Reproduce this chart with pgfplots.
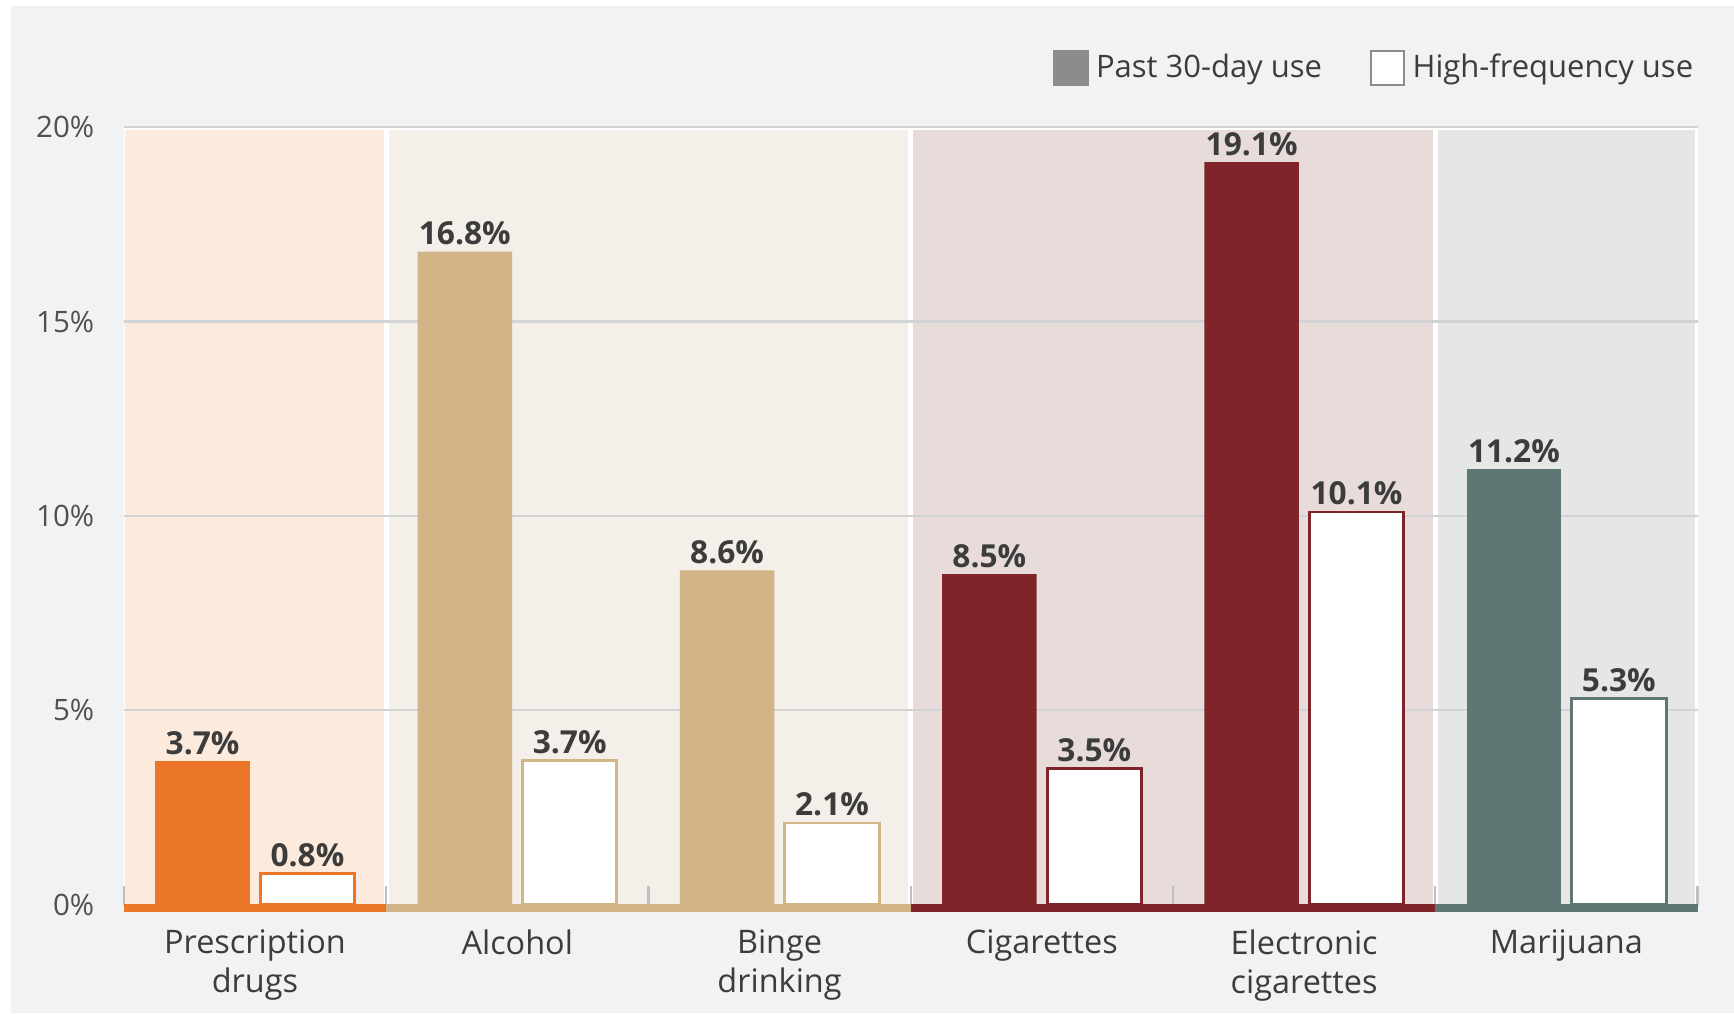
\documentclass[border=0pt]{standalone}
\usepackage{pgfplots}
\pgfplotsset{compat=1.18}
\usepackage{fontspec}
\setmainfont{Open Sans}
\definecolor{bg}{HTML}{F1F2F4}
\definecolor{cOr}{HTML}{EC7627}
\definecolor{cTan}{HTML}{D1B586}
\definecolor{cRed}{HTML}{7F2428}
\definecolor{cGrn}{HTML}{5E7774}
\definecolor{bOr}{HTML}{FCEBDD}
\definecolor{bTan}{HTML}{F4EFE9}
\definecolor{bRed}{HTML}{E7DCD9}
\definecolor{bGrn}{HTML}{E5E7E6}
\definecolor{txt}{HTML}{3C3C3C}
\definecolor{grd}{HTML}{D2D3D5}
\definecolor{lgray}{HTML}{8C8C8C}
\pgfplotsset{sqleg/.style={legend image code/.code={\draw[##1, line width=0.6pt] (0pt,-4.6pt) rectangle (9pt,4.6pt);}}}
\begin{document}
\begin{tikzpicture}
\begin{axis}[
 set layers,
 scale only axis, width=426.9pt, height=210.9pt,
 xmin=-0.5, xmax=5.5, ymin=0, ymax=20,
 ybar, bar width=0.36,
 clip=false,
 axis line style={draw=none},
 tick align=inside,
 xtick pos=bottom,
 xtick={0,...,5},
 xticklabels={{Prescription\\drugs},Alcohol,{Binge\\drinking},Cigarettes,{Electronic\\cigarettes},Marijuana},
 minor xtick={-0.5,0.5,...,5.5},
 major x tick style={draw=none},
 minor x tick style={draw=black!25, line width=0.6pt},
 minor tick length=5pt,
 ytick={0,5,10,15,20},
 ytick style={draw=none},
 ymajorgrids, grid style={grd, line width=0.6pt},
 /pgf/number format/assume math mode=true,
 yticklabel={\pgfmathprintnumber{\tick}\%},
 yticklabel style={font=\fontsize{8}{9.6}\selectfont, text=txt!90, xshift=-4.5pt},
 xticklabel style={font=\fontsize{8.8}{10.6}\selectfont, text=txt, align=center, yshift=-3.3pt},
 nodes near coords={\pgfmathprintnumber[fixed,fixed zerofill,precision=1]{\pgfplotspointmeta}\%},
 nodes near coords style={font=\fontsize{8.6}{10}\selectfont\bfseries, text=txt, inner sep=1.5pt},
 legend style={at={(1,1)}, anchor=east, yshift=16pt, xshift=1pt, draw=none, fill=none, inner sep=0pt,
   font=\fontsize{8.4}{10}\selectfont, text=txt, legend columns=2,
   /tikz/every even column/.append style={column sep=11pt}},
]
\addlegendimage{sqleg, fill=lgray, draw=lgray}
\addlegendentry{Past 30-day use}
\addlegendimage{sqleg, fill=white, draw=lgray}
\addlegendentry{High-frequency use}

\begin{pgfonlayer}{axis background}
\fill[white] ([xshift=-33.6pt,yshift=-29.4pt]rel axis cs:0,0) rectangle ([xshift=9.9pt,yshift=34.5pt]rel axis cs:1,1);
\fill[bg] ([xshift=-30.6pt,yshift=-29.4pt]rel axis cs:0,0) rectangle ([xshift=9.9pt,yshift=33pt]rel axis cs:1,1);
\fill[white] (axis cs:-0.5,0) rectangle (axis cs:5.5,20);
\fill[bOr] ([xshift=0.4pt]axis cs:-0.5,0) rectangle ([xshift=-0.7pt,yshift=-0.7pt]axis cs:0.5,20);
\fill[bTan] ([xshift=0.7pt]axis cs:0.5,0) rectangle ([xshift=-0.7pt,yshift=-0.7pt]axis cs:2.5,20);
\fill[bRed] ([xshift=0.7pt]axis cs:2.5,0) rectangle ([xshift=-0.7pt,yshift=-0.7pt]axis cs:4.5,20);
\fill[bGrn] ([xshift=0.7pt]axis cs:4.5,0) rectangle ([xshift=-0.7pt,yshift=-0.7pt]axis cs:5.5,20);
\end{pgfonlayer}

\addplot[forget plot, fill=cOr, draw=none, bar shift=-0.2] coordinates {(0,3.7)};
\addplot[forget plot, fill=cTan, draw=none, bar shift=-0.2] coordinates {(1,16.8) (2,8.6)};
\addplot[forget plot, fill=cRed, draw=none, bar shift=-0.2] coordinates {(3,8.5) (4,19.1)};
\addplot[forget plot, fill=cGrn, draw=none, bar shift=-0.2] coordinates {(5,11.2)};
\addplot[forget plot, fill=white, draw=cOr, line width=0.8pt, bar shift=0.2] coordinates {(0,0.8)};
\addplot[forget plot, fill=white, draw=cTan, line width=0.8pt, bar shift=0.2] coordinates {(1,3.7) (2,2.1)};
\addplot[forget plot, fill=white, draw=cRed, line width=0.8pt, bar shift=0.2] coordinates {(3,3.5) (4,10.1)};
\addplot[forget plot, fill=white, draw=cGrn, line width=0.8pt, bar shift=0.2] coordinates {(5,5.3)};

\fill[cOr] ([yshift=0.3pt]axis cs:-0.5,0) rectangle ([yshift=-2.1pt]axis cs:0.5,0);
\fill[cTan] ([yshift=0.3pt]axis cs:0.5,0) rectangle ([yshift=-2.1pt]axis cs:2.5,0);
\fill[cRed] ([yshift=0.3pt]axis cs:2.5,0) rectangle ([yshift=-2.1pt]axis cs:4.5,0);
\fill[cGrn] ([yshift=0.3pt]axis cs:4.5,0) rectangle ([yshift=-2.1pt]axis cs:5.5,0);
\end{axis}
\end{tikzpicture}
\end{document}
